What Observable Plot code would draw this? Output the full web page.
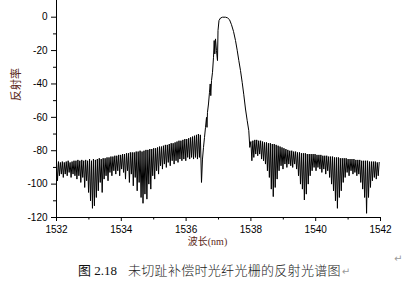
<!DOCTYPE html>
<html><head><meta charset="utf-8">
<script src="https://cdn.jsdelivr.net/npm/d3@7"></script>
<script src="https://cdn.jsdelivr.net/npm/@observablehq/plot@0.6"></script>
<style>
body{margin:0;background:#fff;}
#wrap{position:relative;width:406px;height:286px;overflow:hidden;background:#fff;}
#cap{position:absolute;left:78px;top:262px;font-size:13px;line-height:16px;white-space:nowrap;color:#111;font-family:"Liberation Serif","Noto Sans CJK SC",serif;}
#cap .zh{font-family:"Noto Sans CJK SC",sans-serif;font-weight:300;letter-spacing:0.3px;margin-left:11px;color:#222;}
#cap .pm{font-family:"DejaVu Sans";color:#9a9a9a;font-size:10px;margin-left:1px;}
#pm2{position:absolute;left:394px;top:253px;font-family:"DejaVu Sans";color:#9a9a9a;font-size:10px;}
</style></head><body><div id="wrap"></div>
<script>
// sampled side lobes (reflectance, dB) on an even wavelength grid
const leftStart = 1532.00;
const lobeStep = 0.03;
const leftLobes = [
-87,-98,-86.5,-95,-87,-94,-86.5,-96,-87,-94,
-86.5,-95,-86,-93,-87,-96,-86.5,-94,-86,-95,
-86,-97,-85.5,-95,-86,-99,-85.5,-96,-86,-102,
-85.5,-98,-86,-105,-85,-110,-86,-114.5,-85,-113,
-85.5,-108,-85,-104,-84.5,-99,-85,-105,-84.5,-97,
-84.5,-95,-84,-98,-84,-93,-83.5,-95,-83.5,-92,
-83,-94,-83,-92,-82.5,-95,-82.5,-91,-82,-93,
-82,-97,-81.5,-92,-81.5,-99,-81,-94,-81,-101,
-81,-96,-80.5,-104,-80.5,-99,-80,-108,-80.5,-111.5,
-80,-106,-79.5,-109,-79.5,-100,-79,-103,-79,-95,
-78.5,-97,-78.5,-92,-78,-94,-77.5,-89,-77.5,-91,
-77,-88,-76.5,-90,-76.5,-87,-76,-89,-75.5,-86,
-75.5,-88,-75,-86,-74.5,-87,-74,-85,-74,-86,
-73.5,-85,-73,-86,-73,-84,-72.5,-85,-72,-84,
-71.5,-85,-71,-84,-70.5,-85,-70,-84,-70.5
];
// main reflection peak
const peakWl = [1536.475,1536.506,1536.537,1536.568,1536.599,1536.630,1536.645,1536.660,1536.691,1536.722,1536.744,1536.762,1536.784,1536.815,1536.846,1536.867,1536.886,1536.907,1536.938,1536.969,1536.985,1537.015,1537.062,1537.123,1537.216,1537.278,1537.340,1537.401,1537.463,1537.525,1537.577,1537.627,1537.679,1537.731,1537.781,1537.833,1537.886,1537.935,1537.966];
const peakR = [-99,-85,-78,-72,-66,-60,-66,-57,-52,-45,-40,-47,-38,-33,-24,-14,-22,-13,-20,-26,-8,-2,-0.5,0,0,-0.4,-1.5,-4.5,-8.5,-14,-19.8,-26,-32,-39,-46.5,-55,-62,-68,-78];
const rightStart = 1538.00;
const rightLobes = [
-74.5,-86,-74,-84,-73.5,-82,-73.5,-83,-74,-82,
-74,-85,-74.5,-86,-75,-88,-75,-92,-75.5,-96,
-75.5,-103,-76,-107.5,-76,-102,-76.5,-97,-77,-92,
-77.5,-89,-78,-91,-78.5,-88,-79,-90,-79.5,-88,
-80,-89,-80,-90,-80.5,-88,-80.5,-91,-81,-95,
-81,-100,-81.5,-103,-81.5,-109.5,-81.5,-106,-82,-100,
-82,-95,-82,-92,-82,-90,-82,-92,-82.5,-90,
-82.5,-91,-82.5,-93,-83,-91,-83,-94,-83,-92,
-83.5,-96,-83.5,-100,-83.5,-104,-84,-110,-84,-114.5,
-84,-108,-84.5,-104,-84.5,-99,-84.5,-96,-84.5,-93,
-85,-95,-85,-92,-85,-94,-85,-93,-85.5,-95,
-85.5,-94,-85.5,-99,-86,-103,-86,-108,-86,-117.5,
-86,-108,-86.5,-102,-86.5,-98,-86.5,-96,-86.5,-97,
-87,-95,-87
];
const xMajor = [1532,1534,1536,1538,1540,1542];
const xMinor = [1533,1535,1537,1539,1541];
const yMajor = [0,-20,-40,-60,-80,-100,-120];
const yMinor = [-10,-30,-50,-70,-90,-110];
const xTitle = "波长(nm)";
const yTitle = "反射率";
const captionNum = "图 2.18";
const captionText = "未切趾补偿时光纤光栅的反射光谱图";

const spectrum = [
  ...leftLobes.map((r, i) => ({wl: leftStart + i * lobeStep, r})),
  ...peakWl.map((wl, i) => ({wl, r: peakR[i]})),
  ...rightLobes.map((r, i) => ({wl: rightStart + i * lobeStep, r}))
];

const chart = Plot.plot({
  width: 406, height: 252,
  marginLeft: 56, marginRight: 26, marginTop: 0, marginBottom: 35,
  x: {domain: [1532, 1542]},
  y: {domain: [-120, 10]},
  style: {fontFamily: "'Liberation Sans', Arial, sans-serif", fontSize: "10px", color: "#000", background: "#fff"},
  marks: [
    Plot.line(spectrum, {x: "wl", y: "r", stroke: "#000", strokeWidth: 1}),
    Plot.ruleX([1532], {stroke: "#000"}),
    Plot.ruleY([-120], {stroke: "#000"}),
    Plot.axisX({ticks: xMajor, tickSize: 4, tickPadding: 4, tickFormat: d => String(d), label: null, stroke: "#000"}),
    Plot.axisX({ticks: xMinor, tickSize: 2.5, tickFormat: () => "", label: null, stroke: "#000"}),
    Plot.axisY({ticks: yMajor, tickSize: 5, tickPadding: 4, tickFormat: d => String(d), label: null, stroke: "#000"}),
    Plot.axisY({ticks: yMinor, tickSize: 3, tickFormat: () => "", label: null, stroke: "#000"}),
    Plot.text([yTitle], {frameAnchor: "left", rotate: -90, dx: -40, dy: -8, fill: "#5b2818", fontSize: 11, fontFamily: "'Noto Sans CJK SC', sans-serif"}),
    Plot.text([xTitle], {frameAnchor: "bottom", dx: -11, dy: 27, fill: "#5b2818", fontSize: 10, fontFamily: "'Liberation Serif', 'Noto Sans CJK SC', serif"})
  ]
});
const wrap = document.getElementById("wrap");
wrap.appendChild(chart);
const cap = document.createElement("div");
cap.id = "cap";
cap.innerHTML = `<span>${captionNum}</span><span class="zh">${captionText}</span><span class="pm">↵</span>`;
wrap.appendChild(cap);
const pm = document.createElement("div");
pm.id = "pm2";
pm.textContent = "↵";
wrap.appendChild(pm);
</script>
</body></html>
